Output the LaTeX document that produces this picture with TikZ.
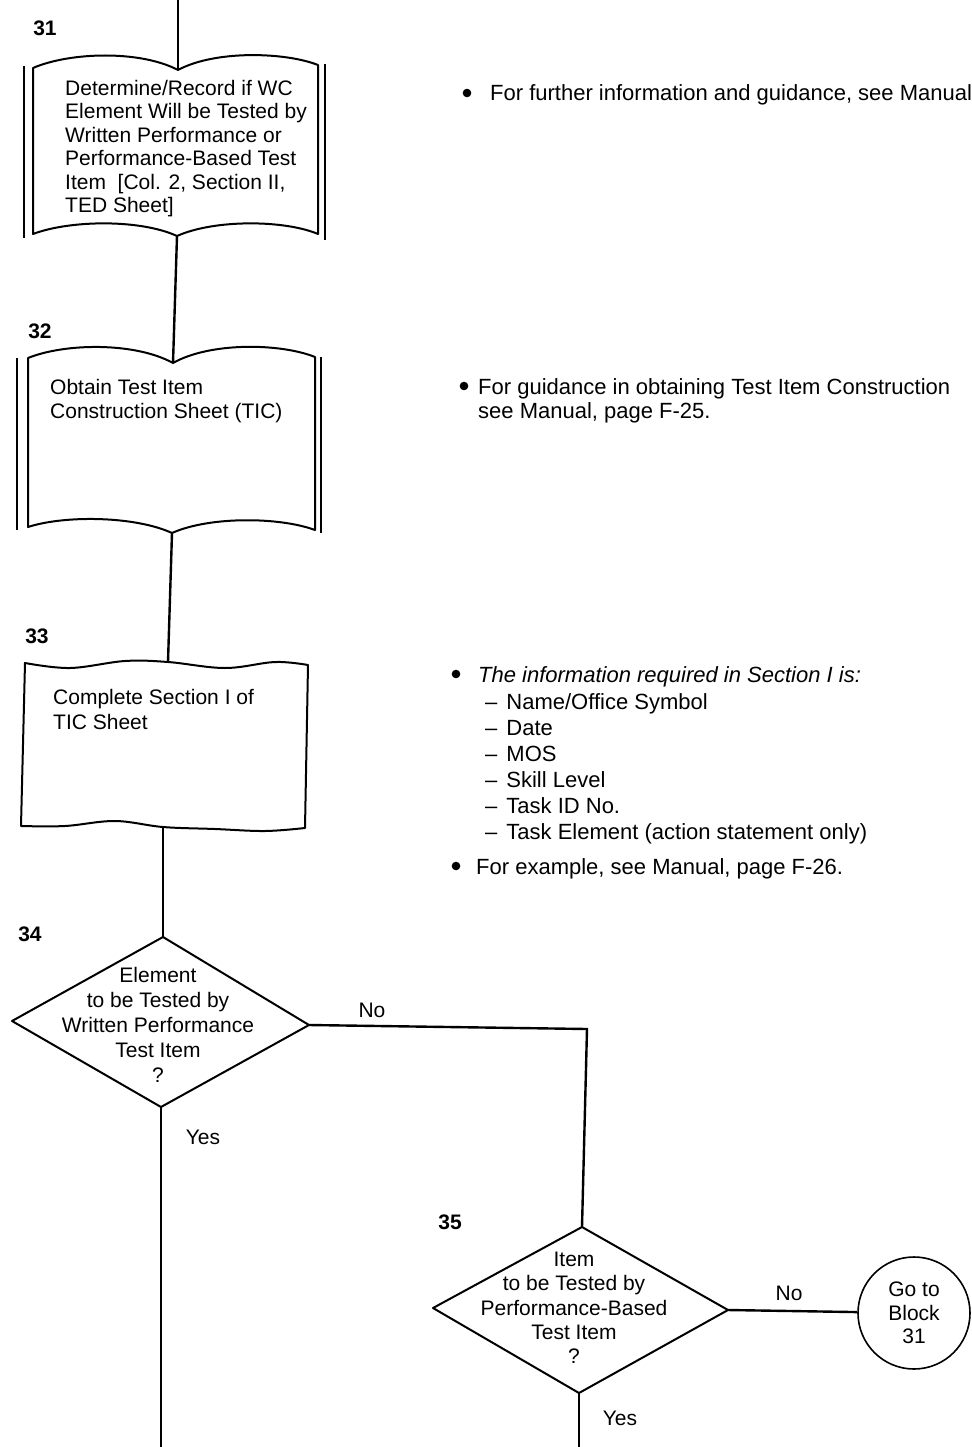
\documentclass[tikz,border=0pt]{standalone}
\usepackage{fontspec}
\setmainfont{Liberation Sans}
\begin{document}
\begin{tikzpicture}[x=1pt,y=-1pt,
  flow/.style={line width=2.4pt},
  shp/.style={line width=2pt, line join=round},
  boxtxt/.style={inner sep=0pt, align=left, anchor=north west, font=\fontsize{21}{23.4}\selectfont},
  dtxt/.style={inner sep=0pt, align=center, font=\fontsize{21}{25}\selectfont},
  num/.style={inner sep=0pt, font=\fontsize{21}{24}\selectfont\bfseries},
  lbl/.style={inner sep=0pt, font=\fontsize{21}{24}\selectfont},
  note/.style={inner sep=0pt, anchor=base west, font=\fontsize{22}{24}\selectfont},
  notelist/.style={inner sep=0pt, align=left, anchor=north west, font=\fontsize{22}{26}\selectfont},
  dot/.style={fill=black}
]
\useasboundingbox (0,0) rectangle (971,1447);

% ---------- key points ----------
\coordinate (start) at (178,0);
\coordinate (t31) at (178,70);
\coordinate (b31) at (177,236);
\coordinate (t32) at (173,363);
\coordinate (b32) at (172,533);
\coordinate (t33) at (168,662);
\coordinate (b33) at (163,827);
\coordinate (d34t) at (163,937);
\coordinate (d34r) at (309,1025);
\coordinate (d34b) at (161,1107);
\coordinate (d34l) at (12,1021);
\coordinate (bend) at (587,1029);
\coordinate (d35t) at (582,1227);
\coordinate (d35r) at (728,1310);
\coordinate (d35b) at (579,1393);
\coordinate (d35l) at (433,1308);
\coordinate (end1) at (161,1447);
\coordinate (end2) at (579,1447);

% ---------- block 31 (book shape) ----------
\node[num] (n31) at (45,28) {31};
\draw[shp] (24,66) -- (24,238);
\draw[shp] (325,64) -- (325,240);
\draw[shp] (33,234) -- (33,68) .. controls (70,52) and (140,50) .. (t31)
  .. controls (215,50) and (285,52) .. (318,65) -- (318,234)
  .. controls (285,220) and (215,219) .. (b31)
  .. controls (140,219) and (70,220) .. cycle;
\node[boxtxt] (x31) at (65,80) {Determine/Record if WC\\Element Will be Tested by\\Written Performance or\\Performance-Based Test\\Item\ \ [Col. 2, Section II,\\TED Sheet]};

% ---------- block 32 (book shape) ----------
\node[num] (n32) at (40,331) {32};
\draw[shp] (17,358) -- (17,530);
\draw[shp] (321,357) -- (321,533);
\draw[shp] (28,527) -- (28,358) .. controls (65,343) and (135,342) .. (t32)
  .. controls (210,342) and (280,343) .. (315,357) -- (315,530)
  .. controls (280,517) and (210,516) .. (b32)
  .. controls (135,516) and (65,515) .. cycle;
\node[boxtxt, font=\fontsize{21}{24}\selectfont] (x32) at (50,379) {Obtain Test Item\\Construction Sheet (TIC)};

% ---------- block 33 (wavy box) ----------
\node[num] (n33) at (37,636) {33};
\draw[shp] plot[smooth, tension=0.6] coordinates {(25,663) (70,668) (125,661) (168,662) (225,668) (275,662) (308,665)}
  -- (305,828)
  -- plot[smooth, tension=0.6] coordinates {(305,828) (265,831) (215,829) (163,827) (115,821) (65,826) (21,826)}
  -- cycle;
\node[boxtxt, font=\fontsize{21}{25}\selectfont] (x33) at (53,689) {Complete Section I of\\TIC Sheet};

% ---------- decision 34 ----------
\node[num] (n34) at (30,934) {34};
\draw[shp] (d34t) -- (d34r) -- (d34b) -- (d34l) -- cycle;
\node[dtxt] (x34) at (158,1025) {Element\\to be Tested by\\Written Performance\\Test Item\\?};

% ---------- decision 35 ----------
\node[num] (n35) at (450,1222) {35};
\draw[shp] (d35t) -- (d35r) -- (d35b) -- (d35l) -- cycle;
\node[dtxt, font=\fontsize{21}{24.3}\selectfont] (x35) at (574,1308) {Item\\to be Tested by\\Performance-Based\\Test Item\\?};

% ---------- connector circle ----------
\node[circle, draw, line width=1.6pt, minimum size=112pt, inner sep=0pt, align=center,
      font=\fontsize{21}{23.5}\selectfont] (go) at (914,1313) {Go to\\Block\\31};

% ---------- flow lines ----------
\draw[flow] (start) -- (t31);
\draw[flow] (b31) -- (t32);
\draw[flow] (b32) -- (t33);
\draw[flow] (b33) -- (d34t);
\draw[flow, line join=miter] (d34r) -- (bend) -- (d35t);
\draw[flow] (d34b) -- (end1);
\draw[flow] (d35b) -- (end2);
\draw[flow] (d35r) -- (go);

\node[lbl] (no1) at (372,1010) {No};
\node[lbl] (yes1) at (203,1137) {Yes};
\node[lbl] (no2) at (789,1293) {No};
\node[lbl] (yes2) at (620,1418) {Yes};

% ---------- notes ----------
\fill[dot] (467,93) circle (4.3pt);
\node[note] (note1) at (490,101) {For further information and guidance, see Manual};

\fill[dot] (464,386) circle (4.3pt);
\node[note] (note2a) at (478,394) {For guidance in obtaining Test Item Construction};
\node[note] (note2b) at (478,418) {see Manual, page F-25.};

\fill[dot] (456,674) circle (4.3pt);
\node[note] (note3) at (478,682) {\itshape The information required in Section I is:};
\node[notelist] (note3list) at (485,693) {--\hspace{9pt}Name/Office Symbol\\--\hspace{9pt}Date\\--\hspace{9pt}MOS\\--\hspace{9pt}Skill Level\\--\hspace{9pt}Task ID No.\\--\hspace{9pt}Task Element (action statement only)};

\fill[dot] (456,866) circle (4.3pt);
\node[note] (note4) at (476,874) {For example, see Manual, page F-26.};
\end{tikzpicture}
\end{document}
